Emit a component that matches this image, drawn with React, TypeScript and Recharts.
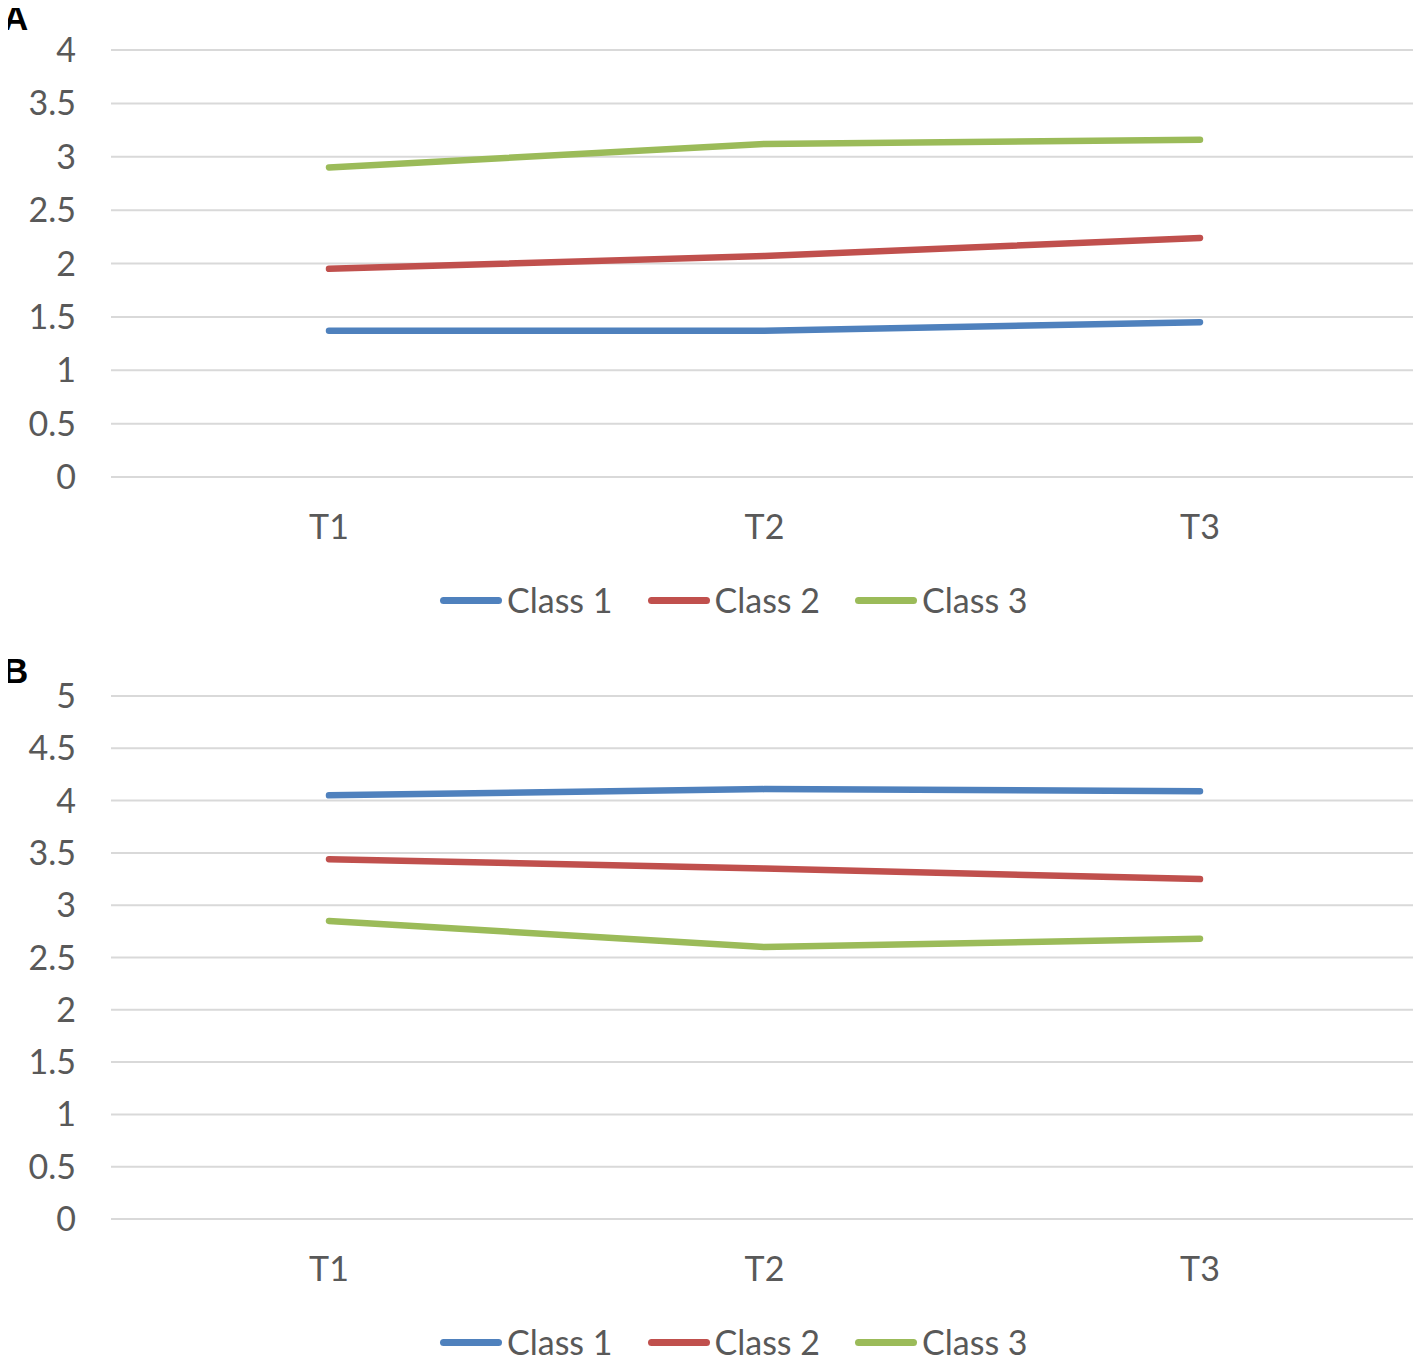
import React from 'react';
import { LineChart, Line, XAxis, YAxis, CartesianGrid, Legend } from 'recharts';

const categories = ['T1', 'T2', 'T3'];
const seriesNames = ['Class 1', 'Class 2', 'Class 3'];
const seriesColors = ['#4f81bd', '#c0504d', '#9bbb59'];

const panelAClass1 = [1.37, 1.37, 1.45];
const panelAClass2 = [1.95, 2.07, 2.24];
const panelAClass3 = [2.9, 3.12, 3.16];

const panelBClass1 = [4.05, 4.11, 4.09];
const panelBClass2 = [3.44, 3.35, 3.25];
const panelBClass3 = [2.85, 2.6, 2.68];

const ticksA = [0, 0.5, 1, 1.5, 2, 2.5, 3, 3.5, 4];
const ticksB = [0, 0.5, 1, 1.5, 2, 2.5, 3, 3.5, 4, 4.5, 5];

const FONT = 'Lato, "Open Sans", sans-serif';
const TEXT = '#595959';
const FS = 34;

const buildRows = (s1: number[], s2: number[], s3: number[]) =>
  categories.map((c, i) => ({ cat: c, c1: s1[i], c2: s2[i], c3: s3[i] }));

const rowsA = buildRows(panelAClass1, panelAClass2, panelAClass3);
const rowsB = buildRows(panelBClass1, panelBClass2, panelBClass3);

const renderLegend = (props: any) => {
  const payload = props.payload || [];
  return (
    <div
      style={{
        display: 'flex',
        alignItems: 'center',
        height: 40,
        paddingLeft: 440,
        fontFamily: FONT,
        fontSize: FS,
        color: TEXT,
        boxSizing: 'border-box',
      }}
    >
      {payload.map((entry: any, i: number) => (
        <div key={i} style={{ display: 'flex', alignItems: 'center', marginRight: 35 }}>
          <span
            style={{
              display: 'inline-block',
              width: 62,
              height: 7,
              borderRadius: 4,
              background: entry.color,
              marginRight: 5,
            }}
          />
          <span style={{ lineHeight: '40px' }}>{entry.value}</span>
        </div>
      ))}
    </div>
  );
};

type PanelProps = {
  rows: any[];
  ticks: number[];
  height: number;
  marginTop: number;
  marginBottom: number;
};

const Panel = ({ rows, ticks, height, marginTop, marginBottom }: PanelProps) => (
  <LineChart
    width={1421}
    height={height}
    data={rows}
    margin={{ top: marginTop, right: 3, bottom: marginBottom, left: 0 }}
  >
    <CartesianGrid vertical={false} stroke="#d9d9d9" strokeWidth={2} />
    <XAxis
      dataKey="cat"
      height={103}
      padding={{ left: 218, right: 218 }}
      axisLine={false}
      tickLine={false}
      tickSize={0}
      tickMargin={38}
      interval={0}
      tick={{ fill: TEXT, fontSize: FS, fontFamily: FONT }}
    />
    <YAxis
      width={111}
      domain={[0, ticks[ticks.length - 1]]}
      ticks={ticks}
      axisLine={false}
      tickLine={false}
      tickSize={0}
      tickMargin={35}
      interval={0}
      tick={{ fill: TEXT, fontSize: FS, fontFamily: FONT }}
    />
    <Legend
      verticalAlign="bottom"
      height={40}
      content={renderLegend}
      wrapperStyle={{ left: 0, width: 1421 }}
    />
    {['c1', 'c2', 'c3'].map((k, i) => (
      <Line
        key={k}
        type="linear"
        dataKey={k}
        name={seriesNames[i]}
        stroke={seriesColors[i]}
        strokeWidth={6.5}
        strokeLinecap="round"
        strokeLinejoin="round"
        dot={false}
        activeDot={false}
        isAnimationActive={false}
      />
    ))}
  </LineChart>
);

const panelLabel = (text: string, baseline: number) => (
  <div
    style={{
      position: 'absolute',
      left: -8,
      top: baseline - 35 - 8,
      width: 60,
      height: 45,
      zIndex: 20,
    }}
  >
    <svg width={60} height={45} style={{ display: 'block' }}>
      <text
        x={3}
        y={35}
        fontFamily='"Liberation Sans", Arial, sans-serif'
        fontWeight="bold"
        fontSize={35}
        fill="#000"
      >
        {text}
      </text>
    </svg>
  </div>
);

export default function App() {
  return (
    <div
      style={{
        position: 'relative',
        width: 1405,
        height: 1351,
        background: '#fff',
      }}
    >
      <div style={{ position: 'absolute', left: -8, top: -8 }}>
        <Panel rows={rowsA} ticks={ticksA} height={650} marginTop={50} marginBottom={30} />
      </div>
      <div style={{ position: 'absolute', left: -8, top: 642 }}>
        <Panel rows={rowsB} ticks={ticksB} height={717} marginTop={46} marginBottom={5} />
      </div>
      {panelLabel('A', 30)}
      {panelLabel('B', 683)}
    </div>
  );
}
